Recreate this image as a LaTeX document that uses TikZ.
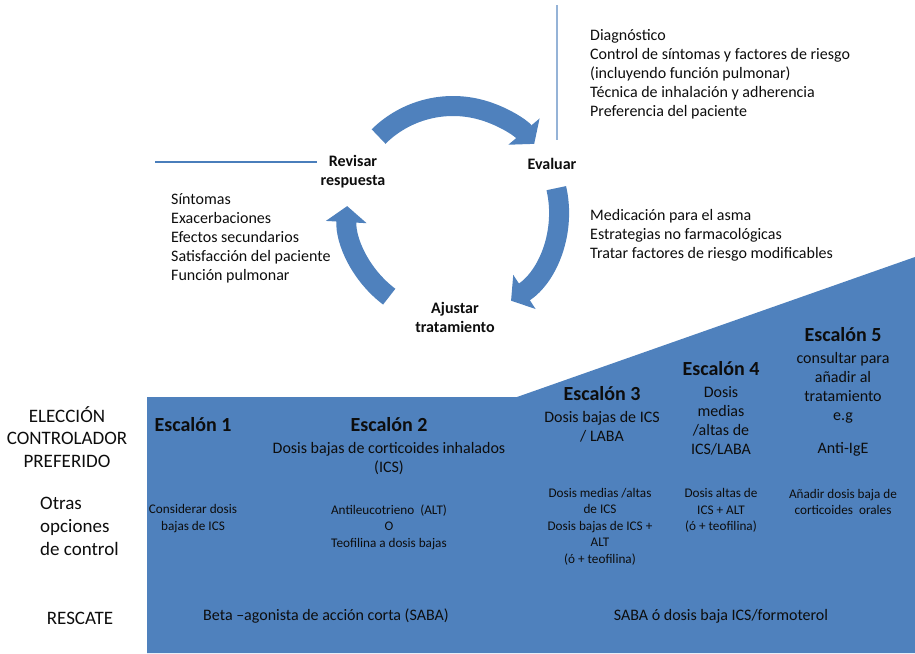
\documentclass[tikz,border=0pt]{standalone}
\usepackage{fontspec}
\setmainfont{Carlito}
\usetikzlibrary{arrows.meta,positioning,calc}
\definecolor{stepblue}{HTML}{4F81BD}
\definecolor{guidepale}{HTML}{95B3D7}
\definecolor{guidedark}{HTML}{4A7EBB}
\definecolor{inkc}{HTML}{0D0D0D}
\tikzset{
  cyc/.style={draw=stepblue,line width=20pt,-{Triangle[width=40pt,length=16pt]}},
  clab/.style={font=\fontsize{16}{19}\selectfont\bfseries,align=center,inner sep=0pt,text=inkc},
  lst/.style={font=\fontsize{16}{19}\selectfont,align=left,anchor=west,inner sep=0pt,text=inkc},
  rowlab/.style={font=\fontsize{19}{22.5}\selectfont,align=center,inner sep=0pt,text=inkc},
  esc/.style={font=\fontsize{20}{22}\selectfont\bfseries,inner sep=0pt,text=inkc},
  stxt/.style={font=\fontsize{16}{19}\selectfont,align=center,inner sep=0pt,text=inkc},
  otxt/.style={font=\fontsize{13.2}{16.5}\selectfont,align=center,inner sep=0pt,text=inkc},
  rtxt/.style={font=\fontsize{16}{19}\selectfont,inner sep=0pt,text=inkc},
  guide/.style={line width=1.2pt},
}
\begin{document}
\begin{tikzpicture}[x=1pt,y=1pt]
  \useasboundingbox (0,0) rectangle (915,-653);
  % --- the stepped background ---
  \fill[stepblue] (147,-397) -- (517,-397) -- (915,-257) -- (915,-653) -- (147,-653) -- cycle;
  % --- review cycle ---
  \coordinate (c) at (453,-212);
  \draw[cyc] ($(c)+(134.6:106)$) arc[start angle=134.6,end angle=40,radius=106];
  \draw[cyc] ($(c)+(13:106)$) arc[start angle=13,end angle=-56.8,radius=106];
  \draw[cyc] ($(c)+(233:106)$) arc[start angle=233,end angle=176.8,radius=106];
  \node[clab] (rev) at (353,-171.5) {Revisar\\respuesta};
  \node[clab] (eva) at (552,-164) {Evaluar};
  \node[clab] (aju) at (455,-317.5) {Ajustar\\tratamiento};
  % guide lines
  \coordinate (vtop) at (557,-5);
  \coordinate (vbot) at (557,-140);
  \coordinate (hleft) at (155,-162);
  \draw[guide,guidepale] (vtop) -- (vbot);
  \draw[guide,guidedark] (hleft) -- ([xshift=-3pt]rev.west |- hleft);
  % lists
  \node[lst] (evalist) at (590,-74) {Diagnóstico\\Control de síntomas y factores de riesgo\\(incluyendo función pulmonar)\\Técnica de inhalación y adherencia\\Preferencia del paciente};
  \node[lst] (ajulist) at (590,-235) {Medicación para el asma\\Estrategias no farmacológicas\\Tratar factores de riesgo modificables};
  \node[lst] (revlist) at (171,-238) {Síntomas\\Exacerbaciones\\Efectos secundarios\\Satisfacción del paciente\\Función pulmonar};
  % --- row labels ---
  \node[rowlab] (pref) at (67,-437) {ELECCIÓN\\CONTROLADOR\\PREFERIDO};
  \node[rowlab,font=\fontsize{19}{23}\selectfont,align=left,anchor=west] (otras) at (40,-526) {Otras\\opciones\\de control};
  \node[rowlab] (resc) at (80,-618) {RESCATE};
  % --- steps ---
  \node[esc] (e1) at (193,-425) {Escalón 1};
  \node[esc] (e2) at (389,-425) {Escalón 2};
  \node[esc] (e3) at (602,-394) {Escalón 3};
  \node[esc] (e4) at (721,-369) {Escalón 4};
  \node[esc] (e5) at (843,-335) {Escalón 5};
  \node[stxt,below=10pt of e2] (d2) {Dosis bajas de corticoides inhalados\\(ICS)};
  \node[stxt,below=10pt of e3] (d3) {Dosis bajas de ICS\\/ LABA};
  \node[stxt,below=10pt of e4] (d4) {Dosis\\medias\\/altas de\\ICS/LABA};
  \node[stxt,below=10pt of e5] (d5) {consultar para\\añadir al\\tratamiento\\e.g\\[14pt]Anti-IgE};
  % other options
  \node[otxt] (o1) at (193,-518.5) {Considerar dosis\\bajas de ICS};
  \node[otxt] (o2) at (389,-527) {Antileucotrieno~~(ALT)\\O\\Teofilina a dosis bajas};
  \node[otxt] (o3) at (600,-526.5) {Dosis medias /altas\\de ICS\\Dosis bajas de ICS +\\ALT\\(ó + teofilina)};
  \node[otxt] (o4) at (721,-510.5) {Dosis altas de\\ICS + ALT\\(ó + teofilina)};
  \node[otxt] (o5) at (843,-502) {Añadir dosis baja de\\corticoides~~orales};
  % rescue
  \node[rtxt] (r1) at (326,-616) {Beta –agonista de acción corta (SABA)};
  \node[rtxt] (r2) at (721,-616) {SABA ó dosis baja ICS/formoterol};
\end{tikzpicture}
\end{document}
